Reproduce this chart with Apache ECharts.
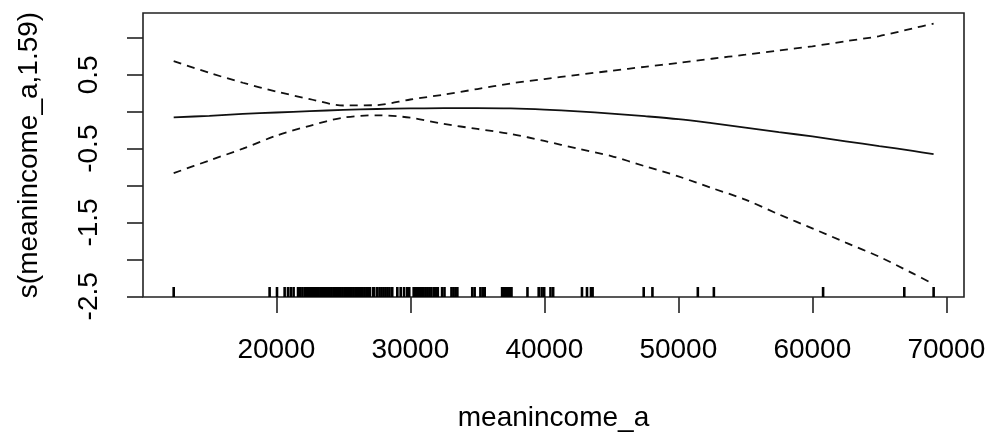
<!DOCTYPE html>
<html>
<head>
<meta charset="utf-8">
<script src="https://cdn.jsdelivr.net/npm/echarts@6/dist/echarts.min.js"></script>
<style>
html,body{margin:0;padding:0;background:#fff;}
#chart{width:988px;height:438px;}
</style>
</head>
<body>
<div id="chart"></div>
<script>
// x grid of the smooth term
var xValues = [12340, 15000, 17500, 20000, 22500, 25000, 27500, 30000, 32500, 35000, 37500, 40000,
  42500, 45000, 47500, 50000, 52500, 55000, 57500, 60000, 62500, 65000, 67500, 69050];
// fitted smooth s(meanincome_a,1.59)
var fitValues = [-0.076, -0.055, -0.030, -0.010, 0.008, 0.025, 0.037, 0.045, 0.050, 0.050, 0.046, 0.030,
  0.005, -0.025, -0.060, -0.100, -0.155, -0.215, -0.275, -0.335, -0.400, -0.465, -0.530, -0.575];
// upper confidence band
var upperValues = [0.685, 0.527, 0.393, 0.274, 0.172, 0.085, 0.090, 0.166, 0.232, 0.308, 0.384, 0.443,
  0.500, 0.555, 0.609, 0.661, 0.718, 0.773, 0.830, 0.887, 0.956, 1.025, 1.130, 1.193];
// lower confidence band
var lowerValues = [-0.832, -0.660, -0.500, -0.324, -0.190, -0.080, -0.048, -0.080, -0.165, -0.233, -0.300, -0.395,
  -0.500, -0.600, -0.738, -0.875, -1.034, -1.190, -1.390, -1.580, -1.773, -1.965, -2.190, -2.335];
// rug of observed meanincome_a values
var rugValues = [12340, 19498, 20050, 20620, 20870, 21080, 21290, 21620, 21790, 21950, 22120, 22240,
  22340, 22480, 22610, 22750, 22890, 23020, 23160, 23300, 23430, 23570, 23700, 23850, 23980, 24120,
  24260, 24390, 24530, 24670, 24800, 24940, 25080, 25210, 25350, 25490, 25620, 25760, 25900, 26030,
  26170, 26310, 26440, 26580, 26720, 26860, 26990, 27230, 27300, 27520, 27700, 27850, 28000, 28150,
  28300, 28450, 28650, 29030, 29280, 29530, 29760, 29920, 30250, 30400, 30550, 30700, 30850, 30950,
  31120, 31270, 31420, 31570, 31750, 31900, 32050, 32370, 32550, 33070, 33220, 33370, 33510,
  34620, 34800, 35230, 35400, 35550, 36850, 37000, 37150, 37300, 37450, 37550, 38742, 39580, 39800,
  39990, 40460, 40660, 42810, 43184, 43483, 43603, 47417, 48068, 51456, 52653, 60805, 66863, 69053];
// axis ticks and labels
var xTicks = [20000, 30000, 40000, 50000, 60000, 70000];
var yTicks = [-2.5, -2, -1.5, -1, -0.5, 0, 0.5, 1];
var yLabels = [-2.5, -1.5, -0.5, 0.5];
var xTitle = 'meanincome_a';
var yTitle = 's(meanincome_a,1.59)';

var Y_MIN = -2.51, Y_MAX = 1.338;
var FONT = '"Liberation Sans", Arial, sans-serif';

function pairs(xs, ys) { return xs.map(function (x, i) { return [x, ys[i]]; }); }

var chart = echarts.init(document.getElementById('chart'), null, {renderer: 'canvas'});
chart.setOption({
  animation: false,
  backgroundColor: '#ffffff',
  grid: {
    left: 143, right: 24, top: 13, bottom: 141,
    show: true, borderColor: '#222', borderWidth: 1.6, backgroundColor: 'transparent',
    containLabel: false, outerBoundsMode: 'none'
  },
  xAxis: {
    type: 'value', min: 10050, max: 71320,
    axisLine: {show: false, onZero: false},
    splitLine: {show: false},
    axisTick: {show: true, length: 16, inside: false, customValues: xTicks,
      lineStyle: {color: '#222', width: 1.6}},
    axisLabel: {customValues: xTicks, margin: 39, fontSize: 28, color: '#000', fontFamily: FONT,
      formatter: function (v) { return String(v); }}
  },
  yAxis: {
    type: 'value', min: Y_MIN, max: Y_MAX,
    axisLine: {show: false, onZero: false},
    splitLine: {show: false},
    axisTick: {show: true, length: 16, inside: false, customValues: yTicks,
      lineStyle: {color: '#222', width: 1.6}},
    axisLabel: {customValues: yLabels, rotate: 90, margin: 40, fontSize: 28, color: '#000', fontFamily: FONT,
      formatter: function (v) { return String(v); }}
  },
  graphic: [
    {type: 'text', x: 553.5, y: 418, silent: true,
      style: {text: xTitle, fill: '#000', font: '28px ' + FONT, align: 'center', verticalAlign: 'middle'}},
    {type: 'text', x: 29, y: 155, rotation: Math.PI / 2, silent: true,
      style: {text: yTitle, fill: '#000', font: '28px ' + FONT, align: 'center', verticalAlign: 'middle'}}
  ],
  series: [
    {type: 'line', data: pairs(xValues, fitValues), smooth: 0.3, symbol: 'none',
      lineStyle: {color: '#111', width: 1.8, type: 'solid'}},
    {type: 'line', data: pairs(xValues, upperValues), smooth: 0.3, symbol: 'none',
      lineStyle: {color: '#111', width: 1.8, type: [8, 6]}},
    {type: 'line', data: pairs(xValues, lowerValues), smooth: 0.3, symbol: 'none',
      lineStyle: {color: '#111', width: 1.8, type: [8, 6]}},
    {type: 'custom', data: rugValues.map(function (v) { return [v]; }),
      renderItem: function (params, api) {
        var p = api.coord([api.value(0), Y_MIN]);
        return {type: 'line', shape: {x1: p[0], y1: p[1], x2: p[0], y2: p[1] - 10},
          style: {stroke: '#000', lineWidth: 2.6}};
      }}
  ]
});
</script>
</body>
</html>
